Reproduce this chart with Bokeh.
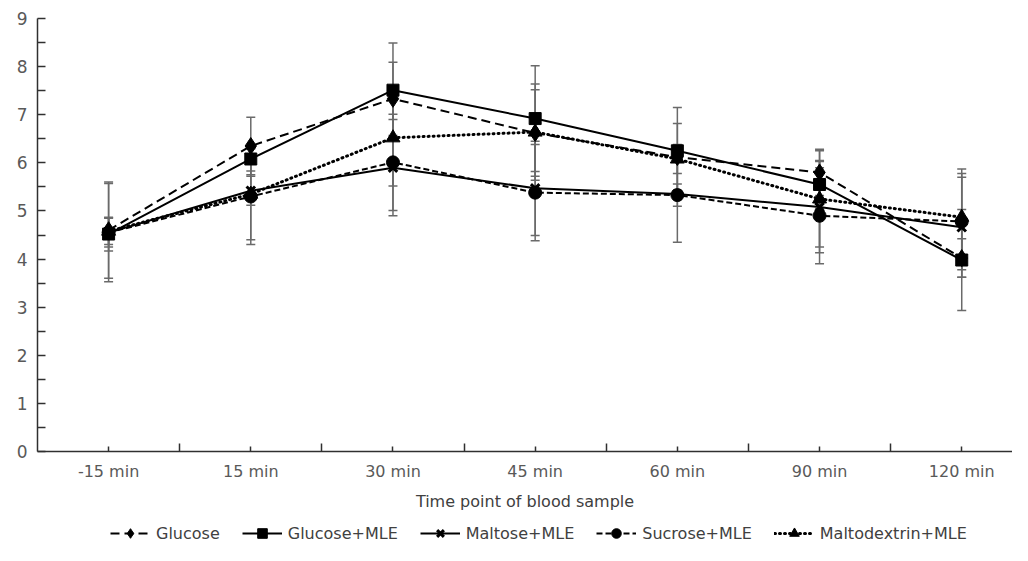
from bokeh.plotting import figure
from bokeh.layouts import column
from bokeh.models import Range1d, FixedTicker, Legend, LegendItem
from bokeh.embed import file_html
from bokeh.resources import INLINE

times = ["-15 min", "15 min", "30 min", "45 min", "60 min", "90 min", "120 min"]

glucose = [4.60, 6.35, 7.33, 6.62, 6.12, 5.80, 4.02]
glucose_sd = [1.00, 0.60, 0.76, 0.90, 0.70, 0.48, 0.40]
glucose_mle = [4.52, 6.08, 7.51, 6.92, 6.25, 5.55, 3.98]
glucose_mle_sd = [0.35, 0.25, 0.98, 1.10, 0.90, 0.50, 1.05]
maltose_mle = [4.55, 5.42, 5.90, 5.47, 5.35, 5.08, 4.66]
maltose_mle_sd = [0.30, 0.30, 1.00, 0.98, 1.00, 0.95, 1.04]
sucrose_mle = [4.55, 5.30, 6.01, 5.38, 5.33, 4.90, 4.78]
sucrose_mle_sd = [1.02, 1.00, 1.00, 1.00, 0.23, 1.00, 1.00]
maltodextrin_mle = [4.58, 5.35, 6.52, 6.64, 6.08, 5.25, 4.87]
maltodextrin_mle_sd = [0.28, 0.95, 1.00, 1.00, 0.30, 1.00, 1.00]

series = [
    ("Glucose", glucose, glucose_sd, "9 5", "diamond", 17, 1),
    ("Glucose+MLE", glucose_mle, glucose_mle_sd, "solid", "square", 12, 1),
    ("Maltose+MLE", maltose_mle, maltose_mle_sd, "solid", "x", 12, 3),
    ("Sucrose+MLE", sucrose_mle, sucrose_mle_sd, "6 3", "circle", 13, 1),
    ("Maltodextrin+MLE", maltodextrin_mle, maltodextrin_mle_sd, "1 4", "triangle", 14, 1),
]

x = list(range(len(times)))

p = figure(width=1012, height=517, output_backend="svg", toolbar_location=None,
           x_range=Range1d(-0.5, 6.357), y_range=Range1d(0, 9),
           min_border_left=37, min_border_right=0, min_border_top=18,
           min_border_bottom=66)
p.outline_line_color = None
p.grid.visible = False

axis_col = "#303030"
text_col = "#595959"

p.yaxis.ticker = FixedTicker(ticks=list(range(10)), minor_ticks=[i + 0.5 for i in range(9)])
p.yaxis.major_tick_in = 8
p.yaxis.major_tick_out = 0
p.yaxis.minor_tick_in = 8
p.yaxis.minor_tick_out = 0
p.yaxis.axis_line_color = axis_col
p.yaxis.major_tick_line_color = axis_col
p.yaxis.minor_tick_line_color = axis_col
p.yaxis.axis_line_width = 1.5
p.yaxis.major_tick_line_width = 1.5
p.yaxis.minor_tick_line_width = 1.5
p.yaxis.major_label_text_font = "DejaVu Sans"
p.yaxis.major_label_text_font_size = "17px"
p.yaxis.major_label_text_color = text_col
p.yaxis.major_label_standoff = 10

p.xaxis.ticker = FixedTicker(ticks=x, minor_ticks=[i + 0.5 for i in range(len(times) - 1)])
p.xaxis.major_label_overrides = {i: t for i, t in zip(x, times)}
p.xaxis.major_tick_in = 5
p.xaxis.major_tick_out = 0
p.xaxis.minor_tick_in = 8
p.xaxis.minor_tick_out = 0
p.xaxis.axis_line_color = axis_col
p.xaxis.major_tick_line_color = axis_col
p.xaxis.minor_tick_line_color = axis_col
p.xaxis.axis_line_width = 1.5
p.xaxis.major_tick_line_width = 1.5
p.xaxis.minor_tick_line_width = 1.5
p.xaxis.major_label_text_font = "DejaVu Sans"
p.xaxis.major_label_text_font_size = "16px"
p.xaxis.major_label_text_color = text_col
p.xaxis.major_label_standoff = 10
p.xaxis.axis_label = "Time point of blood sample"
p.xaxis.axis_label_text_font = "DejaVu Sans"
p.xaxis.axis_label_text_font_size = "16px"
p.xaxis.axis_label_text_font_style = "normal"
p.xaxis.axis_label_text_color = "#404040"
p.xaxis.axis_label_standoff = 8

err_col = "#6a6a6a"
# error bars first (behind lines)
for name, ys, sd, dash, marker, size, lw in series:
    lo = [a - b for a, b in zip(ys, sd)]
    hi = [a + b for a, b in zip(ys, sd)]
    p.segment(x0=x, y0=lo, x1=x, y1=hi, line_color=err_col, line_width=1.5)
    p.scatter(x, hi, marker="dash", size=9, line_color=err_col, line_width=1.5)
    p.scatter(x, lo, marker="dash", size=9, line_color=err_col, line_width=1.5)


def draw_series(fig, xs, ys, dash, marker, size, lw):
    if dash == "1 4":
        lr = fig.line(xs, ys, line_color="black", line_width=3, line_dash=dash, line_cap="round")
    else:
        lr = fig.line(xs, ys, line_color="black", line_width=2, line_dash=dash)
    mr = fig.scatter(xs, ys, marker=marker, size=size, fill_color="black",
                     line_color="black", line_width=lw)
    return lr, mr


for name, ys, sd, dash, marker, size, lw in series:
    draw_series(p, x, ys, dash, marker, size, lw)

# legend strip below the chart (its data lie outside its view; only the legend shows)
lg = figure(width=1012, height=28, output_backend="svg", toolbar_location=None,
            x_axis_location=None, y_axis_location=None,
            x_range=Range1d(0, 1), y_range=Range1d(-20, -19),
            min_border_left=0, min_border_right=0, min_border_top=0, min_border_bottom=0)
lg.outline_line_color = None
lg.grid.visible = False

items = []
for name, ys, sd, dash, marker, size, lw in series:
    lr, mr = draw_series(lg, x, ys, dash, marker, size, lw)
    items.append(LegendItem(label=name, renderers=[lr, mr]))

legend = Legend(items=items, location=(73, 0), orientation="horizontal",
                label_text_font="DejaVu Sans", label_text_font_size="16px",
                label_text_color="#404040", glyph_width=40, glyph_height=24,
                label_height=24, label_standoff=6, spacing=22, padding=0, margin=0,
                border_line_color=None, background_fill_alpha=0)
lg.add_layout(legend)

layout = column(p, lg, spacing=0)
open("out.html", "w").write(file_html(layout, INLINE))
